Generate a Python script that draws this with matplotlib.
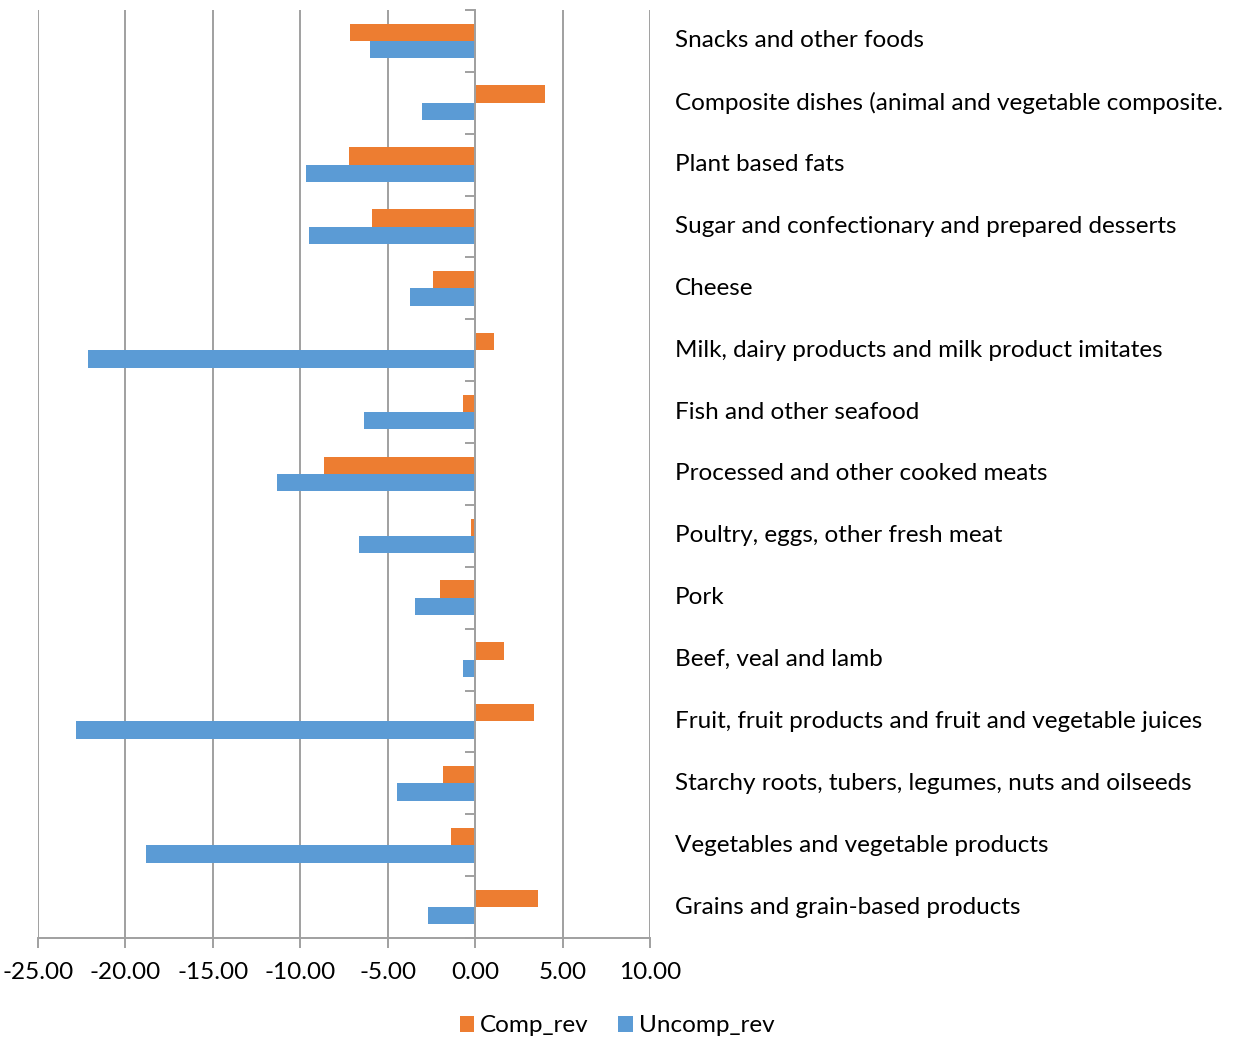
import numpy as np
import matplotlib
matplotlib.use("Agg")
import matplotlib.pyplot as plt
from matplotlib.ticker import FixedLocator, NullLocator, FormatStrFormatter
import matplotlib.transforms as mtransforms

categories = [
    "Snacks and other foods",
    "Composite dishes (animal and vegetable composite.",
    "Plant based fats",
    "Sugar and confectionary and prepared desserts",
    "Cheese",
    "Milk, dairy products and milk product imitates",
    "Fish and other seafood",
    "Processed and other cooked meats",
    "Poultry, eggs, other fresh meat",
    "Pork",
    "Beef, veal and lamb",
    "Fruit, fruit products and fruit and vegetable juices",
    "Starchy roots, tubers, legumes, nuts and oilseeds",
    "Vegetables and vegetable products",
    "Grains and grain-based products",
]
comp_rev = [-7.17, 3.97, -7.22, -5.89, -2.43, 1.06, -0.70, -8.64, -0.24, -2.02,
            1.64, 3.34, -1.85, -1.37, 3.61]
uncomp_rev = [-6.04, -3.03, -9.70, -9.53, -3.71, -22.13, -6.38, -11.33, -6.64, -3.44,
              -0.67, -22.83, -4.45, -18.81, -2.67]
x_ticks = [-25, -20, -15, -10, -5, 0, 5, 10]

ORANGE = "#ED7D31"
BLUE = "#5B9BD5"
GRID = "#A0A0A0"

plt.rcParams["font.family"] = ["Lato", "DejaVu Sans"]

fig = plt.figure(figsize=(12.47, 10.38), dpi=100)
ax = fig.add_axes([38 / 1247, 1 - 938 / 1038, 612 / 1247, 928 / 1038])

y = np.arange(len(categories))
h = 0.28
ax.barh(y - h / 2, comp_rev, height=h, color=ORANGE, label="Comp_rev", zorder=3)
ax.barh(y + h / 2, uncomp_rev, height=h, color=BLUE, label="Uncomp_rev", zorder=3)

ax.set_xlim(-25, 10)
ax.set_ylim(len(categories) - 0.5, -0.5)

# vertical gridlines
ax.xaxis.set_major_locator(FixedLocator(x_ticks))
ax.xaxis.set_major_formatter(FormatStrFormatter("%.2f"))
ax.grid(axis="x", color=GRID, linewidth=1.4, zorder=0)
ax.set_axisbelow(True)

# spines: bottom axis line and a vertical axis at zero
for s in ["top", "right"]:
    ax.spines[s].set_visible(False)
ax.spines["bottom"].set_color(GRID)
ax.spines["bottom"].set_linewidth(1.4)
ax.spines["left"].set_position(("data", 0))
ax.spines["left"].set_color(GRID)
ax.spines["left"].set_linewidth(1.4)
ax.spines["left"].set_zorder(4)

ax.tick_params(axis="x", direction="out", length=7, width=1.4, color=GRID,
               labelsize=17.5, pad=10, labelcolor="black")

# category boundary ticks on the zero axis
ax.yaxis.set_major_locator(NullLocator())
ax.yaxis.set_minor_locator(FixedLocator(np.arange(-0.5, len(categories), 1.0)))
ax.tick_params(axis="y", which="minor", direction="out", length=7, width=1.4,
               color=GRID, labelleft=False)

# category labels to the right of the plot area
trans = mtransforms.blended_transform_factory(ax.transAxes, ax.transData)
for yi, name in zip(y, categories):
    ax.text(1.0408, yi, name, transform=trans, ha="left", va="center",
            fontsize=17.5, color="black", clip_on=False)

leg = fig.legend(loc="center", bbox_to_anchor=(617 / 1247, 1 - 1026 / 1038), ncol=2,
                 frameon=False, fontsize=17.5, handlelength=0.6, handleheight=0.6,
                 handletextpad=0.25, columnspacing=1.2)

fig.savefig("out.png", dpi=100)
